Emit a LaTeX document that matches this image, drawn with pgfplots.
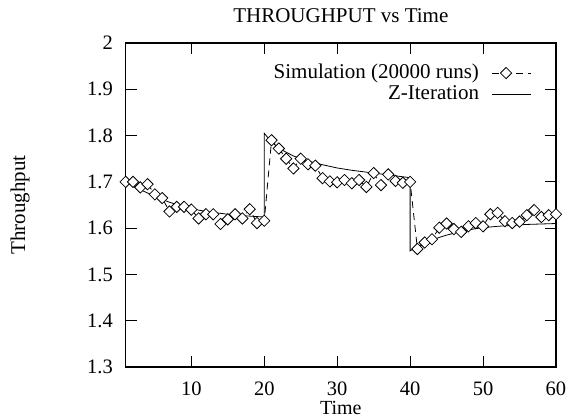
\documentclass[border=0pt]{standalone}
\usepackage{fontspec}
\setmainfont{Liberation Serif}
\usepackage{pgfplots}
\pgfplotsset{compat=1.18}
\usepackage{pgfplotstable}
\pgfplotstableread{
x y
1 1.700
2 1.700
3 1.688
4 1.695
5 1.673
6 1.665
7 1.636
8 1.646
9 1.646
10 1.640
11 1.621
12 1.630
13 1.630
14 1.609
15 1.619
16 1.630
17 1.621
18 1.641
19 1.611
20 1.616
21 1.790
22 1.772
23 1.750
24 1.729
25 1.750
26 1.738
27 1.735
28 1.708
29 1.701
30 1.699
31 1.704
32 1.697
33 1.704
34 1.689
35 1.719
36 1.693
37 1.716
38 1.702
39 1.698
40 1.700
41 1.555
42 1.569
43 1.576
44 1.601
45 1.610
46 1.598
47 1.592
48 1.604
49 1.611
50 1.604
51 1.630
52 1.633
53 1.615
54 1.611
55 1.614
56 1.628
57 1.639
58 1.624
59 1.628
60 1.630
}\simdata
\pgfplotstableread{
x y
1 1.700
2 1.691
3 1.683
4 1.676
5 1.669
6 1.662
7 1.656
8 1.651
9 1.647
10 1.643
11 1.639
12 1.636
13 1.634
14 1.632
15 1.630
16 1.628
17 1.627
18 1.626
19 1.625
20 1.624
20 1.805
21 1.786
22 1.773
23 1.764
24 1.756
25 1.750
26 1.745
27 1.741
28 1.737
30 1.730
32 1.725
35 1.719
38 1.713
40 1.709
40 1.551
41 1.560
42 1.567
43 1.574
44 1.580
45 1.585
46 1.589
47 1.593
48 1.596
49 1.599
50 1.601
52 1.604
54 1.606
56 1.608
58 1.609
60 1.610
}\zdata
\begin{document}
\fontsize{21}{25}\selectfont
\begin{tikzpicture}[font=\rmfamily\fontsize{21}{25}\selectfont]
\begin{axis}[
  scale only axis,
  width=430.3pt, height=324pt,
  xmin=1, xmax=60, ymin=1.3, ymax=2,
  xtick={10,20,30,40,50,60},
  xticklabels={10,20,30,40,50,60},
  ytick={1.3,1.4,1.5,1.6,1.7,1.8,1.9,2},
  yticklabels={1.3,1.4,1.5,1.6,1.7,1.8,1.9,2},
  /pgf/number format/assume math mode=true,
  tick align=inside,
  major tick length=11pt,
  tick style={line width=1pt, black},
  axis line style={line width=1.6pt},
  ticklabel style={font=\rmfamily\fontsize{20.5}{24}\selectfont},
  xticklabel style={anchor=base, inner sep=0pt, yshift=-28.5pt},
  yticklabel style={anchor=east, inner sep=0pt, xshift=-12.7pt},
  title={THROUGHPUT vs Time},
  title style={at={(axis description cs:0.5,1)}, anchor=base, yshift=15pt, inner sep=0pt},
  xlabel={Time},
  xlabel style={at={(axis description cs:0.5,0)}, anchor=base, yshift=-47.5pt, inner sep=0pt, font=\rmfamily\fontsize{20}{24}\selectfont},
  ylabel={Throughput},
  ylabel style={at={(axis description cs:-0.2456,0.5)}, anchor=center, inner sep=0pt},
  legend plot pos=right,
  legend cell align=right,
  legend style={draw=none, fill=none, inner sep=0pt, at={(axis description cs:1,1)}, anchor=north east, xshift=-24pt, yshift=-21pt, nodes={inner sep=0pt}, column sep=13pt, row sep=3.9pt, font=\rmfamily\fontsize{21}{25}\selectfont},
  legend image code/.code={\draw[mark repeat=2,mark phase=2,#1] plot coordinates {(0pt,0pt) (13.7pt,0pt) (39pt,0pt)};},
]
\coordinate (sw) at (rel axis cs:0,0);
\addplot[black, line width=0.8pt, dash pattern=on 7pt off 5pt, mark=square*, mark options={solid, rotate=45, fill=white, line width=0.8pt}, mark size=4pt] table[x=x,y=y] {\simdata};
\addlegendentry{Simulation (20000 runs)}
\addplot[black, line width=0.8pt, no marks] table[x=x,y=y] {\zdata};
\addlegendentry{Z-Iteration}
\end{axis}
\pgfresetboundingbox
\path[use as bounding box] ([shift={(-125.7pt,-51pt)}]sw) rectangle ++(571pt,418pt);
\end{tikzpicture}
\end{document}
